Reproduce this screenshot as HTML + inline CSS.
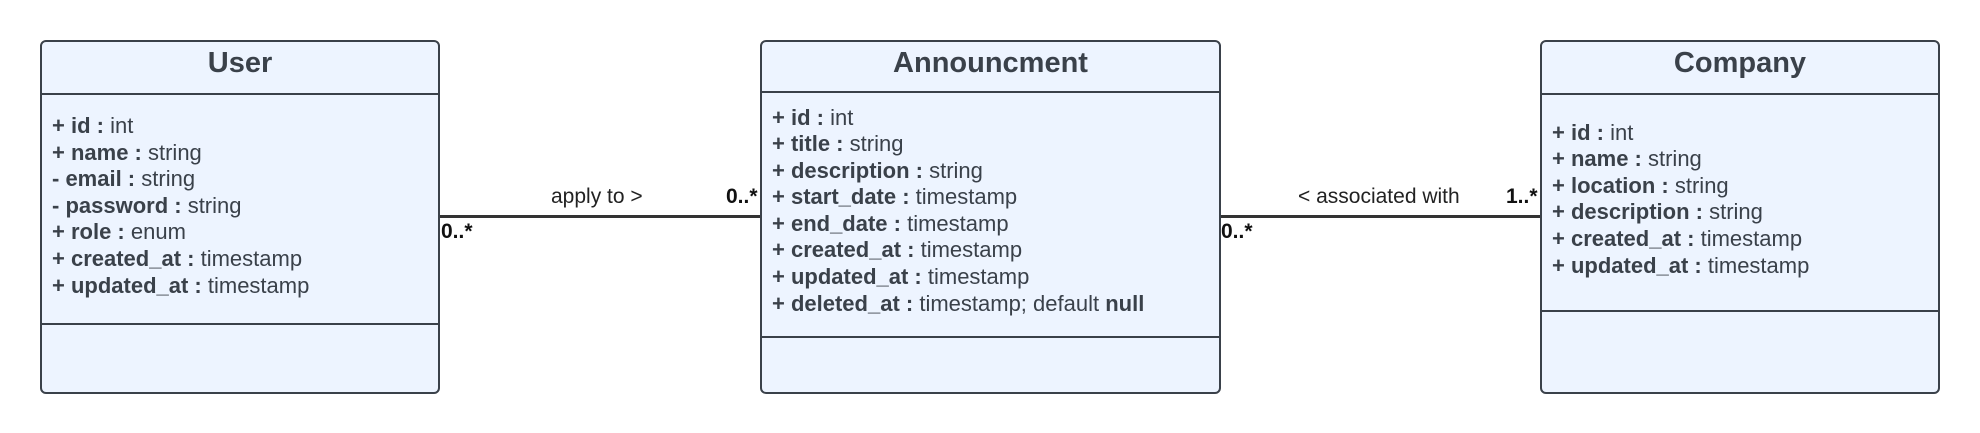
<!DOCTYPE html>
<html><head><meta charset="utf-8"><style>
body{margin:0;width:1980px;height:433px;background:#fff;position:relative;overflow:hidden;font-family:"Liberation Sans",sans-serif;color:#3a414a}
.box{position:absolute;background:#edf4ff;border:2px solid #3a414a;border-radius:6px;box-sizing:border-box}
.hr{position:absolute;left:0;right:0;height:0;border-top:2px solid #3a414a}
.t{position:absolute;left:0;right:0;text-align:center;font-weight:bold;font-size:29px;line-height:32px}
.a{position:absolute;left:10px;font-size:22px;line-height:24px;white-space:nowrap}
.a b{font-weight:bold}
.line{position:absolute;height:3px;background:#333}
.l{position:absolute;font-size:21px;line-height:24px;white-space:nowrap;color:#222}
.m{position:absolute;font-size:21px;line-height:24px;font-weight:bold;color:#111}
</style></head><body>
<div class="box" style="left:40px;top:40px;width:400px;height:354px">
<div class="t" style="top:5px">User</div>
<div class="hr" style="top:51px"></div>
<div class="a" style="top:72px"><b>+ id :</b> int</div>
<div class="a" style="top:99px"><b>+ name :</b> string</div>
<div class="a" style="top:125px"><b>- email :</b> string</div>
<div class="a" style="top:152px"><b>- password :</b> string</div>
<div class="a" style="top:178px"><b>+ role :</b> enum</div>
<div class="a" style="top:205px"><b>+ created_at :</b> timestamp</div>
<div class="a" style="top:232px"><b>+ updated_at :</b> timestamp</div>
<div class="hr" style="top:281px"></div>
</div>
<div class="box" style="left:760px;top:40px;width:461px;height:354px">
<div class="t" style="top:5px">Announcment</div>
<div class="hr" style="top:49px"></div>
<div class="a" style="top:64px"><b>+ id :</b> int</div>
<div class="a" style="top:90px"><b>+ title :</b> string</div>
<div class="a" style="top:117px"><b>+ description :</b> string</div>
<div class="a" style="top:143px"><b>+ start_date :</b> timestamp</div>
<div class="a" style="top:170px"><b>+ end_date :</b> timestamp</div>
<div class="a" style="top:196px"><b>+ created_at :</b> timestamp</div>
<div class="a" style="top:223px"><b>+ updated_at :</b> timestamp</div>
<div class="a" style="top:250px"><b>+ deleted_at :</b> timestamp; default <b>null</b></div>
<div class="hr" style="top:294px"></div>
</div>
<div class="box" style="left:1540px;top:40px;width:400px;height:354px">
<div class="t" style="top:5px">Company</div>
<div class="hr" style="top:51px"></div>
<div class="a" style="top:79px"><b>+ id :</b> int</div>
<div class="a" style="top:105px"><b>+ name :</b> string</div>
<div class="a" style="top:132px"><b>+ location :</b> string</div>
<div class="a" style="top:158px"><b>+ description :</b> string</div>
<div class="a" style="top:185px"><b>+ created_at :</b> timestamp</div>
<div class="a" style="top:212px"><b>+ updated_at :</b> timestamp</div>
<div class="hr" style="top:268px"></div>
</div>
<div class="line" style="left:440px;width:320px;top:215px"></div>
<div class="line" style="left:1221px;width:319px;top:215px"></div>
<div class="l" style="left:551px;top:185px">apply to &gt;</div>
<div class="m" style="left:726px;top:185px">0..*</div>
<div class="m" style="left:441px;top:220px">0..*</div>
<div class="l" style="left:1298px;top:185px">&lt; associated with</div>
<div class="m" style="left:1506px;top:185px">1..*</div>
<div class="m" style="left:1221px;top:220px">0..*</div>
</body></html>
